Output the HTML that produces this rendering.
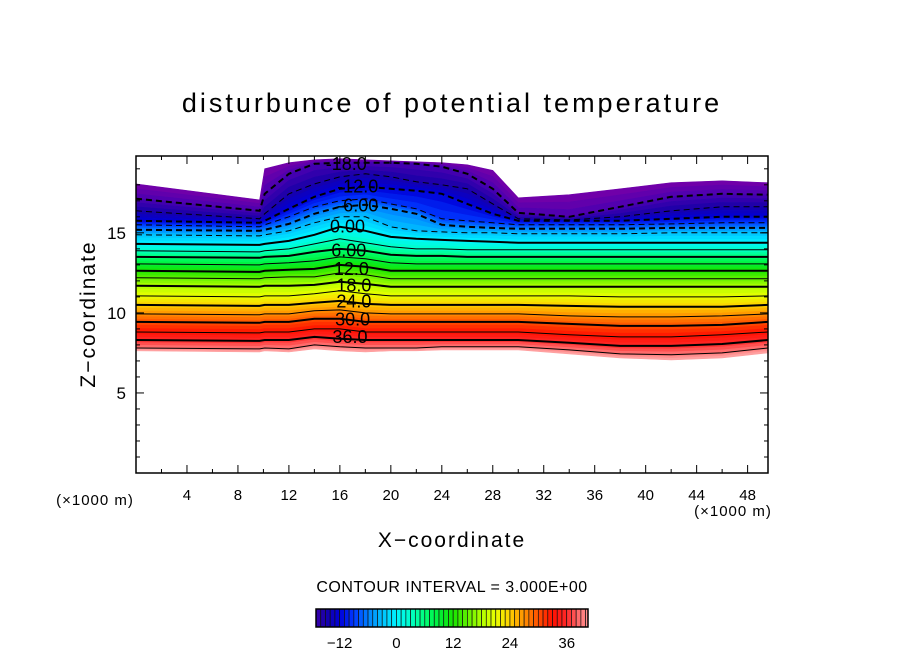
<!DOCTYPE html>
<html><head><meta charset="utf-8"><style>
html,body{margin:0;padding:0;background:#fff;width:904px;height:654px;overflow:hidden}
svg{display:block;font-family:"Liberation Sans",sans-serif}
</style></head><body>
<svg id="c" width="904" height="654" viewBox="0 0 904 654">
<text x="452" y="112" text-anchor="middle" font-size="27" letter-spacing="3">disturbunce of potential temperature</text>
<g id="plot"></g>
<g id="axes"></g>
<text x="452" y="547" text-anchor="middle" font-size="21" letter-spacing="2">X−coordinate</text>
<text transform="translate(95,314) rotate(-90)" text-anchor="middle" font-size="21" letter-spacing="2">Z−coordinate</text>
<text x="95" y="505" text-anchor="middle" font-size="15" letter-spacing="1">(×1000 m)</text>
<text x="733" y="516" text-anchor="middle" font-size="15" letter-spacing="1">(×1000 m)</text>
<text x="452" y="592" text-anchor="middle" font-size="16" letter-spacing="0.5">CONTOUR INTERVAL = 3.000E+00</text>
<g id="cbar"></g>
</svg>
<script>
// ---- data ----
const xs = [0, 9.7, 10.1, 12, 14, 16, 18, 20, 22, 24, 26, 28, 30, 34, 38, 42, 46, 49.6];
const levels = [-18,-15,-12,-9,-6,-3,0,3,6,9,12,15,18,21,24,27,30,33,36,39];
const topEdge = [18.06,17.06,19.0,19.38,19.56,19.63,19.56,19.5,19.44,19.38,19.25,18.9,17.19,17.38,17.75,18.13,18.25,18.13];
const bottomEdge = [7.63,7.56,7.63,7.56,7.75,7.63,7.56,7.63,7.63,7.69,7.69,7.69,7.69,7.44,7.19,7.06,7.19,7.5];
const lineZ = [
 [17.13,16.38,17.44,18.69,19.31,19.38,19.38,19.38,19.31,19.13,18.69,17.75,16.25,16.0,16.63,17.25,17.44,17.38],
 [16.38,15.88,16.19,17.44,18.06,18.5,18.69,18.5,18.19,18.0,17.75,16.81,15.88,15.81,16.0,16.38,16.63,16.63],
 [15.75,15.63,15.75,16.5,17.25,17.75,17.88,17.75,17.63,17.44,16.81,16.19,15.75,15.75,15.75,15.88,16.0,16.0],
 [15.5,15.38,15.5,16.0,16.63,17.0,17.13,16.81,16.5,15.88,15.75,15.63,15.5,15.5,15.5,15.56,15.63,15.63],
 [15.19,15.13,15.19,15.56,16.19,16.63,16.75,16.5,16.19,15.5,15.38,15.31,15.25,15.25,15.25,15.31,15.31,15.31],
 [14.88,14.81,14.88,15.13,15.63,16.0,16.0,15.38,15.13,15.06,15.0,15.0,14.94,14.94,14.94,15.0,15.0,15.0],
 [14.31,14.25,14.31,14.5,14.88,15.38,15.13,14.75,14.63,14.56,14.5,14.44,14.38,14.38,14.38,14.38,14.38,14.38],
 [13.88,13.81,13.88,14.0,14.31,14.63,14.38,14.13,14.0,14.0,13.94,13.94,13.94,13.94,13.94,13.94,13.94,13.94],
 [13.5,13.44,13.5,13.56,13.81,14.0,13.88,13.63,13.56,13.56,13.5,13.5,13.5,13.5,13.5,13.5,13.5,13.5],
 [13.06,13.0,13.06,13.13,13.25,13.5,13.38,13.13,13.06,13.06,13.06,13.06,13.06,13.06,13.06,13.06,13.06,13.06],
 [12.63,12.56,12.63,12.69,12.75,13.0,12.88,12.63,12.63,12.63,12.63,12.63,12.63,12.63,12.63,12.63,12.63,12.63],
 [12.19,12.13,12.19,12.25,12.25,12.5,12.38,12.13,12.13,12.13,12.13,12.13,12.13,12.13,12.13,12.13,12.13,12.13],
 [11.69,11.63,11.69,11.69,11.75,11.94,11.81,11.63,11.63,11.63,11.63,11.63,11.63,11.63,11.63,11.63,11.63,11.63],
 [11.06,11.0,11.06,11.06,11.19,11.38,11.19,11.06,11.06,11.06,11.06,11.06,11.06,11.06,11.0,11.0,11.0,11.06],
 [10.5,10.44,10.5,10.5,10.63,10.75,10.56,10.5,10.5,10.5,10.5,10.5,10.5,10.44,10.38,10.38,10.38,10.5],
 [9.94,9.88,9.94,9.94,10.13,10.19,10.0,9.94,9.94,9.94,9.94,9.94,9.94,9.81,9.75,9.75,9.81,9.94],
 [9.44,9.38,9.44,9.44,9.63,9.63,9.44,9.44,9.44,9.44,9.44,9.44,9.44,9.31,9.19,9.19,9.25,9.44],
 [8.81,8.75,8.81,8.81,9.0,9.0,8.81,8.81,8.81,8.81,8.81,8.81,8.81,8.63,8.5,8.5,8.63,8.81],
 [8.31,8.25,8.31,8.31,8.5,8.38,8.31,8.31,8.31,8.31,8.31,8.31,8.31,8.13,7.94,7.94,8.06,8.31],
 [7.81,7.75,7.81,7.75,8.0,7.88,7.81,7.81,7.81,7.88,7.88,7.88,7.88,7.69,7.44,7.38,7.5,7.81]
];
const labelText = ["-18.0","-12.0","-6.00","0.00","6.00","12.0","18.0","24.0","30.0","36.0"];
const labelX = [16.5,17.4,17.4,16.6,16.7,16.9,17.1,17.1,17.0,16.8];
const labelZ = [19.3,17.9,16.7,15.4,13.9,12.75,11.7,10.7,9.6,8.5];
const xTicks = [4,8,12,16,20,24,28,32,36,40,44,48];
const yTicks = [5,10,15];
const cbTicks = [-12,0,12,24,36];
const cStops = [[-21,"#7800a8"],[-18,"#4a00b0"],[-15,"#1800a8"],[-12,"#0000d8"],[-9,"#0038ff"],[-6,"#0080ff"],[-3,"#00c0ff"],[0,"#00f4ff"],[3,"#00ffc8"],[6,"#00ff78"],[9,"#00f038"],[12,"#18e400"],[15,"#60f000"],[18,"#b0ff00"],[21,"#e8ff00"],[24,"#ffd000"],[27,"#ff9000"],[30,"#ff5000"],[33,"#ff1000"],[36,"#ff2828"],[39,"#ff7878"],[42,"#ffa8a8"]];
// ---- scales ----
const X0=136,X1=768,Y0=473,Y1=156,XMAX=49.6,ZMAX=19.8;
const sx=v=>X0+v/XMAX*(X1-X0);
const sz=v=>Y0-v/ZMAX*(Y0-Y1);
const NS='http://www.w3.org/2000/svg';
function mk(t,a,p){const e=document.createElementNS(NS,t);for(const k in a)e.setAttribute(k,a[k]);p.appendChild(e);return e;}
function hex(h){return [1,3,5].map(i=>parseInt(h.substr(i,2),16));}
function cmap(v){
 if(v<=cStops[0][0])return cStops[0][1];
 for(let i=1;i<cStops.length;i++){if(v<=cStops[i][0]){const a=cStops[i-1],b=cStops[i];const t=(v-a[0])/(b[0]-a[0]);const A=hex(a[1]),B=hex(b[1]);return 'rgb('+A.map((c,j)=>Math.round(c+(B[j]-c)*t)).join(',')+')';}}
 return cStops[cStops.length-1][1];
}
const plot=document.getElementById('plot');
const defs=mk('defs',{},plot);
const cp=mk('clipPath',{id:'clp'},defs);mk('rect',{x:X0,y:Y1,width:X1-X0,height:Y0-Y1},cp);
const g=mk('g',{'clip-path':'url(#clp)'},plot);
const bnds=[{z:topEdge,v:-21}].concat(levels.map((l,i)=>({z:lineZ[i],v:l}))).concat([{z:bottomEdge,v:42}]);
const path=z=>xs.map((x,i)=>sx(x).toFixed(1)+','+sz(z[i]).toFixed(1));
const SUB=3;
for(let b=0;b<bnds.length-1;b++){
 const A=bnds[b],B=bnds[b+1];
 for(let s=0;s<SUB;s++){
  const t0=s/SUB,t1=(s+1)/SUB;
  const za=A.z.map((z,i)=>z+(B.z[i]-z)*t0),zb=A.z.map((z,i)=>z+(B.z[i]-z)*t1);
  const v=A.v+(B.v-A.v)*(s+0.5)/SUB;
  const p=mk('polygon',{points:path(za).concat(path(zb).reverse()).join(' '),fill:cmap(v),stroke:cmap(v),'stroke-width':0.6},g);
  
  
 }
}
levels.forEach((l,i)=>{
 const e=mk('polyline',{points:path(lineZ[i]).join(' '),fill:'none',stroke:'#000','stroke-width':(l%6===0)?2:1,'stroke-dasharray':l<0?'6,4':'none'},g);
 
 
});
labelText.forEach((t,i)=>{
 const e=mk('text',{x:sx(labelX[i]),y:sz(labelZ[i])+6,'text-anchor':'middle','font-size':18},g);
 e.textContent=t;
 
 
});
// axes
const ax=document.getElementById('axes');
mk('rect',{x:X0,y:Y1,width:X1-X0,height:Y0-Y1,fill:'none',stroke:'#000','stroke-width':1.5},ax);
for(let v=2;v<XMAX;v+=2){const maj=v%4===0,L=maj?8:4;
 mk('line',{x1:sx(v),x2:sx(v),y1:Y0,y2:Y0-L,stroke:'#000'},ax);mk('line',{x1:sx(v),x2:sx(v),y1:Y1,y2:Y1+L,stroke:'#000'},ax);}
for(let v=1;v<ZMAX;v+=1){const maj=v%5===0,L=maj?8:4;
 mk('line',{x1:X0,x2:X0+L,y1:sz(v),y2:sz(v),stroke:'#000'},ax);mk('line',{x1:X1,x2:X1-L,y1:sz(v),y2:sz(v),stroke:'#000'},ax);}
xTicks.forEach(v=>{const e=mk('text',{x:sx(v),y:500,'text-anchor':'middle','font-size':15},ax);e.textContent=v;
 
 });
yTicks.forEach(v=>{const e=mk('text',{x:126,y:sz(v)+6,'text-anchor':'end','font-size':17},ax);e.textContent=v;
 
 });
// colorbar
const cb=document.getElementById('cbar');
const CB0=316,CB1=588,CV0=-17,CV1=40.5;
const cx=v=>Math.min(CB1,CB0+(v-CV0)/(CV1-CV0)*(CB1-CB0));
for(let v=CV0;v<CV1;v+=1){
 const e=mk('rect',{x:cx(v),y:609,width:Math.max(0,cx(v+1)-cx(v)),height:18,fill:cmap(v+0.5),stroke:'#111','stroke-width':0.7},cb);
 
 
}
mk('rect',{x:CB0,y:609,width:CB1-CB0,height:18,fill:'none',stroke:'#000','stroke-width':1.5},cb);
cbTicks.forEach(v=>{const e=mk('text',{x:cx(v),y:648,'text-anchor':'middle','font-size':15},cb);e.textContent=v<0?'−'+(-v):v;
 
 });
</script>
</body></html>
